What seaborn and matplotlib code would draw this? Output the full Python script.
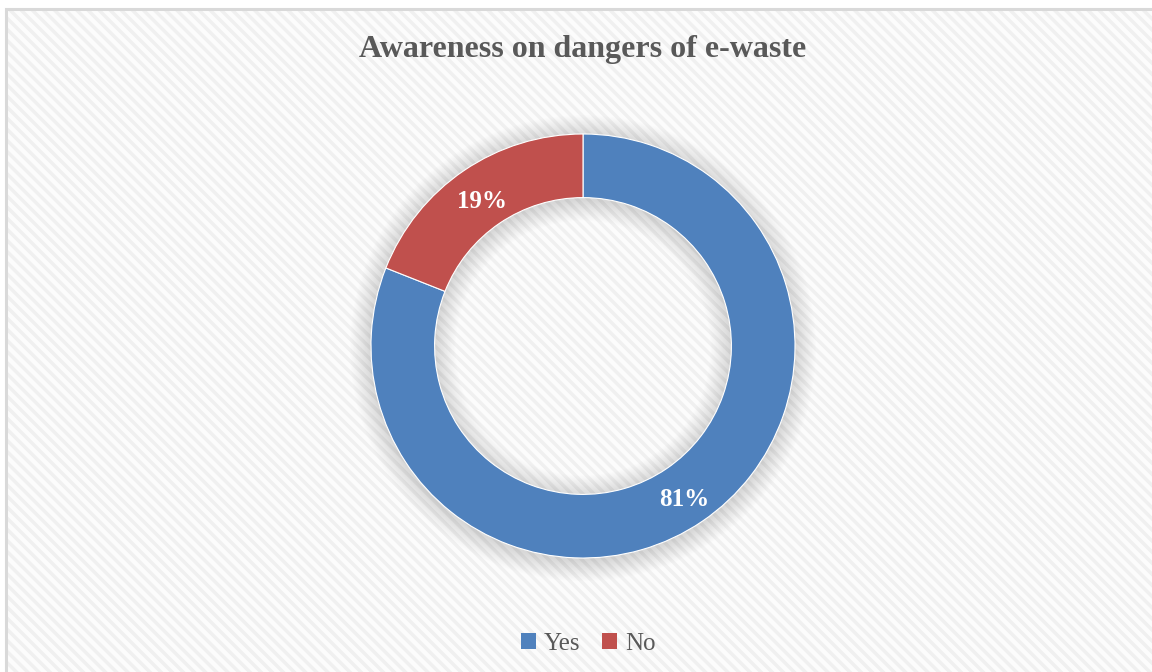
import numpy as np
import matplotlib
matplotlib.use("Agg")
import matplotlib.pyplot as plt
import seaborn as sns
from matplotlib.patches import Rectangle, Wedge, Patch

# data
categorias = ["Yes", "No"]
porcentajes = [81, 19]
colores = ["#4F81BD", "#C0504D"]
titulo = "Awareness on dangers of e-waste"

sns.set_theme(style="white")
plt.rcParams["font.family"] = ["Liberation Serif", "DejaVu Serif"]
plt.rcParams["hatch.linewidth"] = 2.5

W, H = 1152, 672
fig = plt.figure(figsize=(W / 100, H / 100), dpi=100)
fig.patch.set_facecolor("white")

# fondo rayado
fondo = Rectangle((6 / W, -0.1), 1.2, (H - 9) / H + 0.1, transform=fig.transFigure,
                  facecolor="#FCFCFC", edgecolor="#F0F0F0", linewidth=0,
                  hatch="\\\\\\", zorder=-5)
fig.patches.append(fondo)
# marco
marco = Rectangle((6 / W, -0.1), 1.2, (H - 9) / H + 0.1, transform=fig.transFigure,
                  facecolor="none", edgecolor="#D9D9D9", linewidth=2.2, zorder=-4)
fig.patches.append(marco)

# ejes del anillo: centro (583, 346), radio 212 px
cx, cy, r = 583, 346, 212
ax = fig.add_axes([(cx - r) / W, (H - cy - r) / H, 2 * r / W, 2 * r / H])
ax.set_facecolor("none")
ax.set_zorder(2)

# sombra suave
for i in range(18):
    d = 0.0055 * (i + 1)
    ax.add_patch(Wedge((0, -0.01), 1.0 + d, 0, 360, width=0.3 + 2 * d,
                       facecolor="black", alpha=0.009, linewidth=0, zorder=1,
                       clip_on=False))

wedges, _ = ax.pie(porcentajes, colors=colores, startangle=90, counterclock=False,
                   radius=1.0, wedgeprops=dict(width=0.30, edgecolor="white", linewidth=0.8))
for w in wedges:
    w.set_zorder(3)
    w.set_clip_on(False)

# etiquetas
ang = 90
for p, w in zip(porcentajes, wedges):
    medio = ang - p * 3.6 / 2
    ang -= p * 3.6
    rad = np.deg2rad(medio)
    ax.text(0.85 * np.cos(rad), 0.85 * np.sin(rad) - 0.02, f"{p}%", ha="center", va="center",
            color="white", fontsize=18, fontweight="bold", zorder=4)

ax.set_xlim(-1, 1)
ax.set_ylim(-1, 1)
ax.set_aspect("equal")
ax.axis("off")

fig.text(cx / W, 1 - 50 / H, titulo, ha="center", va="center", fontsize=23,
         fontweight="bold", color="#595959")

handles = [Patch(facecolor=c, edgecolor="none") for c in colores]
fig.legend(handles, categorias, loc="center", bbox_to_anchor=(588 / W, 1 - 644 / H), ncol=2,
           frameon=False, fontsize=18, labelcolor="#595959", handlelength=0.6,
           handleheight=0.6, handletextpad=0.3, columnspacing=0.9)

fig.savefig("out.png", dpi=100)
